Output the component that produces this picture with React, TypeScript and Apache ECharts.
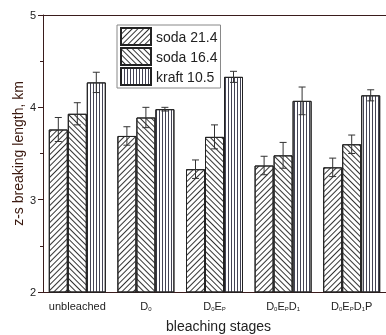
import React, { useEffect, useRef } from "react";
import * as echarts from "echarts";

const tickLabels = [
  "unbleached",
  "D{s|0}",
  "D{s|0}E{s|P}",
  "D{s|0}E{s|P}D{s|1}",
  "D{s|0}E{s|P}D{s|1}P",
];
const seriesNames = ["soda 21.4", "soda 16.4", "kraft 10.5"];
const soda214 = [3.76, 3.69, 3.33, 3.37, 3.35];
const soda214Err = [0.13, 0.1, 0.1, 0.1, 0.1];
const soda164 = [3.93, 3.89, 3.68, 3.48, 3.6];
const soda164Err = [0.12, 0.11, 0.13, 0.14, 0.1];
const kraft105 = [4.27, 3.98, 4.33, 4.07, 4.13];
const kraft105Err = [0.11, 0.02, 0.06, 0.15, 0.06];

const INK = "#222";
const AXIS = "#3a1c1c";
const BAR_W = 19;

export default function App() {
  const ref = useRef<HTMLDivElement>(null);
  useEffect(() => {
    const chart = echarts.init(ref.current!, null, { renderer: "svg" });
    const values = [soda214, soda164, kraft105];
    const errs = [soda214Err, soda164Err, kraft105Err];
    const decals: any[] = [
      { symbol: "rect", symbolSize: 1, dashArrayX: [1, 0], dashArrayY: [1, 3], rotation: -Math.PI / 4, color: "#333" },
      { symbol: "rect", symbolSize: 1, dashArrayX: [1, 0], dashArrayY: [1, 3], rotation: Math.PI / 4, color: "#333" },
      { symbol: "rect", symbolSize: 1, dashArrayX: [1, 2], dashArrayY: [1, 0], rotation: 0, color: "#445" },
    ];
    const bars = seriesNames.map((name, k) => ({
      type: "bar",
      name,
      data: values[k],
      barWidth: BAR_W,
      barGap: "0%",
      itemStyle: { color: "#fff", borderColor: INK, borderWidth: 1, decal: decals[k] },
      z: 2,
    }));
    const errSeries = seriesNames.map((name, k) => ({
      type: "custom",
      name: name + " err",
      data: values[k].map((v, i) => [i, v, errs[k][i]]),
      z: 5,
      renderItem: (params: any, api: any) => {
        const i = api.value(0);
        const v = api.value(1);
        const e = api.value(2);
        const off = (k - 1) * BAR_W;
        const top = api.coord([i, v + e]);
        const bot = api.coord([i, v - e]);
        const x = top[0] + off;
        const cap = 3.5;
        const style = { stroke: "#333", lineWidth: 1 };
        return {
          type: "group",
          children: [
            { type: "line", shape: { x1: x, y1: top[1], x2: x, y2: bot[1] }, style },
            { type: "line", shape: { x1: x - cap, y1: top[1], x2: x + cap, y2: top[1] }, style },
            { type: "line", shape: { x1: x - cap, y1: bot[1], x2: x + cap, y2: bot[1] }, style },
          ],
        };
      },
    }));
    chart.setOption({
      animation: false,
      grid: { left: 43, right: -7, top: 15, bottom: 43 },
      legend: {
        data: seriesNames,
        icon: "rect",
        orient: "vertical",
        left: 117,
        top: 25,
        padding: [2, 3, 2, 3],
        itemGap: 1,
        itemWidth: 30,
        itemHeight: 17,
        borderColor: "#888",
        borderWidth: 1,
        textStyle: { fontFamily: "Liberation Sans, Arial", fontSize: 14, color: INK },
      },
      xAxis: [
        {
          type: "category",
          data: tickLabels,
          axisLine: { show: true, lineStyle: { color: AXIS, width: 1 } },
          axisTick: { show: false },
          axisLabel: {
            interval: 0,
            margin: 8,
            fontFamily: "Liberation Sans, Arial",
            fontSize: 11,
            color: INK,
            rich: { s: { fontSize: 6, verticalAlign: "bottom", padding: [6, 0, 0, 0], color: INK } },
          },
        },
        {
          type: "category",
          position: "top",
          data: tickLabels,
          axisLine: { show: true, lineStyle: { color: AXIS, width: 1 } },
          axisTick: { show: false },
          axisLabel: { show: false },
        },
      ],
      yAxis: {
        type: "value",
        min: 2,
        max: 5,
        interval: 1,
        name: "z-s breaking length, km",
        nameLocation: "middle",
        nameGap: 18,
        nameMoveOverlap: false,
        nameTextStyle: { fontFamily: "Liberation Sans, Arial", fontSize: 14, color: "#3b1a10" },
        axisLine: { show: true, lineStyle: { color: AXIS, width: 1 } },
        axisTick: { show: true, inside: false, length: 5, lineStyle: { color: AXIS } },
        minorTick: { show: true, splitNumber: 2, length: 3, lineStyle: { color: AXIS } },
        splitLine: { show: false },
        axisLabel: { margin: 7, fontFamily: "Liberation Sans, Arial", fontSize: 11, color: INK },
      },
      graphic: [
        {
          type: "text",
          left: 166,
          top: 319,
          style: { text: "bleaching stages", fontFamily: "Liberation Sans, Arial", fontSize: 14, fill: INK },
        },
      ],
      series: [...bars, ...errSeries],
    });
    return () => chart.dispose();
  }, []);
  return <div ref={ref} style={{ position: "fixed", left: 0, top: 0, width: 386, height: 335 }} />;
}
